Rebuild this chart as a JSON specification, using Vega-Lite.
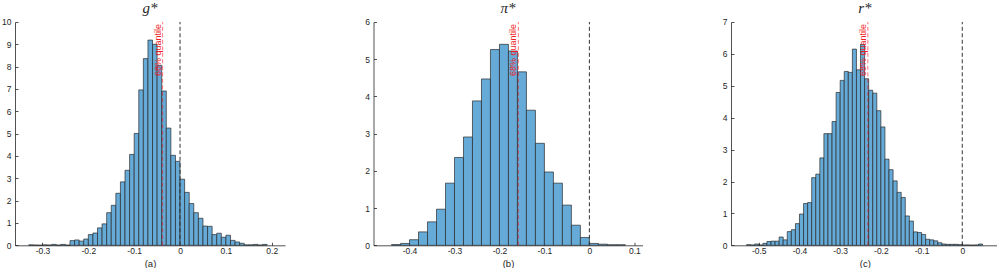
{
  "$schema": "https://vega.github.io/schema/vega-lite/v6.json",
  "background": "white",
  "padding": {"left": 1, "top": 1, "right": 0, "bottom": 0},
  "bounds": "flush",
  "spacing": 88.5,
  "datasets": {
    "a": [
      {"x0": -0.33, "x1": -0.32, "h": 0.02}, {"x0": -0.32, "x1": -0.31, "h": 0.01}, {"x0": -0.31, "x1": -0.30, "h": 0.005},
      {"x0": -0.30, "x1": -0.29, "h": 0.02}, {"x0": -0.29, "x1": -0.28, "h": 0.01}, {"x0": -0.28, "x1": -0.27, "h": 0.04},
      {"x0": -0.27, "x1": -0.26, "h": 0.01}, {"x0": -0.26, "x1": -0.25, "h": 0.04}, {"x0": -0.25, "x1": -0.24, "h": 0.01},
      {"x0": -0.24, "x1": -0.23, "h": 0.21}, {"x0": -0.23, "x1": -0.22, "h": 0.24}, {"x0": -0.22, "x1": -0.21, "h": 0.19},
      {"x0": -0.21, "x1": -0.20, "h": 0.28}, {"x0": -0.20, "x1": -0.19, "h": 0.48}, {"x0": -0.19, "x1": -0.18, "h": 0.55},
      {"x0": -0.18, "x1": -0.17, "h": 0.78}, {"x0": -0.17, "x1": -0.16, "h": 0.96}, {"x0": -0.16, "x1": -0.15, "h": 1.46},
      {"x0": -0.15, "x1": -0.14, "h": 1.79}, {"x0": -0.14, "x1": -0.13, "h": 2.33}, {"x0": -0.13, "x1": -0.12, "h": 2.84},
      {"x0": -0.12, "x1": -0.11, "h": 3.36}, {"x0": -0.11, "x1": -0.10, "h": 4.07}, {"x0": -0.10, "x1": -0.09, "h": 5.01},
      {"x0": -0.09, "x1": -0.08, "h": 6.96}, {"x0": -0.08, "x1": -0.07, "h": 8.36}, {"x0": -0.07, "x1": -0.06, "h": 9.19},
      {"x0": -0.06, "x1": -0.05, "h": 9.0}, {"x0": -0.05, "x1": -0.04, "h": 8.06}, {"x0": -0.04, "x1": -0.03, "h": 6.91},
      {"x0": -0.03, "x1": -0.02, "h": 5.25}, {"x0": -0.02, "x1": -0.01, "h": 4.03}, {"x0": -0.01, "x1": 0.0, "h": 3.76},
      {"x0": 0.0, "x1": 0.01, "h": 2.96}, {"x0": 0.01, "x1": 0.02, "h": 2.37}, {"x0": 0.02, "x1": 0.03, "h": 1.87},
      {"x0": 0.03, "x1": 0.04, "h": 1.46}, {"x0": 0.04, "x1": 0.05, "h": 1.21}, {"x0": 0.05, "x1": 0.06, "h": 0.86},
      {"x0": 0.06, "x1": 0.07, "h": 0.85}, {"x0": 0.07, "x1": 0.08, "h": 0.48}, {"x0": 0.08, "x1": 0.09, "h": 0.54},
      {"x0": 0.09, "x1": 0.10, "h": 0.36}, {"x0": 0.10, "x1": 0.11, "h": 0.45}, {"x0": 0.11, "x1": 0.12, "h": 0.22},
      {"x0": 0.12, "x1": 0.13, "h": 0.15}, {"x0": 0.13, "x1": 0.14, "h": 0.09}, {"x0": 0.14, "x1": 0.15, "h": 0.02},
      {"x0": 0.15, "x1": 0.16, "h": 0.02}, {"x0": 0.16, "x1": 0.17, "h": 0.04}, {"x0": 0.17, "x1": 0.18, "h": 0.01},
      {"x0": 0.18, "x1": 0.19, "h": 0.04}
    ],
    "b": [
      {"x0": -0.44, "x1": -0.42, "h": 0.02}, {"x0": -0.42, "x1": -0.40, "h": 0.05}, {"x0": -0.40, "x1": -0.38, "h": 0.15},
      {"x0": -0.38, "x1": -0.36, "h": 0.36}, {"x0": -0.36, "x1": -0.34, "h": 0.63}, {"x0": -0.34, "x1": -0.32, "h": 0.97},
      {"x0": -0.32, "x1": -0.30, "h": 1.67}, {"x0": -0.30, "x1": -0.28, "h": 2.36}, {"x0": -0.28, "x1": -0.26, "h": 2.91},
      {"x0": -0.26, "x1": -0.24, "h": 3.88}, {"x0": -0.24, "x1": -0.22, "h": 4.47}, {"x0": -0.22, "x1": -0.20, "h": 5.26},
      {"x0": -0.20, "x1": -0.18, "h": 5.40}, {"x0": -0.18, "x1": -0.16, "h": 5.22}, {"x0": -0.16, "x1": -0.14, "h": 4.66},
      {"x0": -0.14, "x1": -0.12, "h": 3.63}, {"x0": -0.12, "x1": -0.10, "h": 2.74}, {"x0": -0.10, "x1": -0.08, "h": 1.97},
      {"x0": -0.08, "x1": -0.06, "h": 1.67}, {"x0": -0.06, "x1": -0.04, "h": 1.08}, {"x0": -0.04, "x1": -0.02, "h": 0.54},
      {"x0": -0.02, "x1": 0.0, "h": 0.21}, {"x0": 0.0, "x1": 0.02, "h": 0.05}, {"x0": 0.02, "x1": 0.04, "h": 0.03},
      {"x0": 0.04, "x1": 0.06, "h": 0.015}, {"x0": 0.06, "x1": 0.08, "h": 0.015}
    ],
    "c": [
      {"x0": -0.53, "x1": -0.52, "h": 0.02}, {"x0": -0.52, "x1": -0.51, "h": 0.01}, {"x0": -0.51, "x1": -0.50, "h": 0.04},
      {"x0": -0.50, "x1": -0.49, "h": 0.01}, {"x0": -0.49, "x1": -0.48, "h": 0.06}, {"x0": -0.48, "x1": -0.47, "h": 0.12},
      {"x0": -0.47, "x1": -0.46, "h": 0.13}, {"x0": -0.46, "x1": -0.45, "h": 0.13}, {"x0": -0.45, "x1": -0.44, "h": 0.26},
      {"x0": -0.44, "x1": -0.43, "h": 0.17}, {"x0": -0.43, "x1": -0.42, "h": 0.43}, {"x0": -0.42, "x1": -0.41, "h": 0.49},
      {"x0": -0.41, "x1": -0.40, "h": 0.68}, {"x0": -0.40, "x1": -0.39, "h": 0.98}, {"x0": -0.39, "x1": -0.38, "h": 1.31},
      {"x0": -0.38, "x1": -0.37, "h": 1.34}, {"x0": -0.37, "x1": -0.36, "h": 2.12}, {"x0": -0.36, "x1": -0.35, "h": 2.23},
      {"x0": -0.35, "x1": -0.34, "h": 2.74}, {"x0": -0.34, "x1": -0.33, "h": 3.50}, {"x0": -0.33, "x1": -0.32, "h": 3.50},
      {"x0": -0.32, "x1": -0.31, "h": 3.88}, {"x0": -0.31, "x1": -0.30, "h": 4.79}, {"x0": -0.30, "x1": -0.29, "h": 5.17},
      {"x0": -0.29, "x1": -0.28, "h": 5.45}, {"x0": -0.28, "x1": -0.27, "h": 5.42}, {"x0": -0.27, "x1": -0.26, "h": 6.15},
      {"x0": -0.26, "x1": -0.25, "h": 5.50}, {"x0": -0.25, "x1": -0.24, "h": 6.30}, {"x0": -0.24, "x1": -0.23, "h": 5.22},
      {"x0": -0.23, "x1": -0.22, "h": 4.86}, {"x0": -0.22, "x1": -0.21, "h": 4.77}, {"x0": -0.21, "x1": -0.20, "h": 4.22},
      {"x0": -0.20, "x1": -0.19, "h": 3.71}, {"x0": -0.19, "x1": -0.18, "h": 2.70}, {"x0": -0.18, "x1": -0.17, "h": 2.37},
      {"x0": -0.17, "x1": -0.16, "h": 2.02}, {"x0": -0.16, "x1": -0.15, "h": 1.66}, {"x0": -0.15, "x1": -0.14, "h": 1.50},
      {"x0": -0.14, "x1": -0.13, "h": 0.92}, {"x0": -0.13, "x1": -0.12, "h": 0.76}, {"x0": -0.12, "x1": -0.11, "h": 0.42},
      {"x0": -0.11, "x1": -0.10, "h": 0.40}, {"x0": -0.10, "x1": -0.09, "h": 0.34}, {"x0": -0.09, "x1": -0.08, "h": 0.19},
      {"x0": -0.08, "x1": -0.07, "h": 0.17}, {"x0": -0.07, "x1": -0.06, "h": 0.14}, {"x0": -0.06, "x1": -0.05, "h": 0.08},
      {"x0": -0.05, "x1": -0.04, "h": 0.04}, {"x0": -0.04, "x1": -0.03, "h": 0.03}, {"x0": -0.03, "x1": -0.02, "h": 0.03},
      {"x0": -0.02, "x1": -0.01, "h": 0.03}, {"x0": -0.01, "x1": 0.0, "h": 0.02}, {"x0": 0.0, "x1": 0.01, "h": 0.01},
      {"x0": 0.01, "x1": 0.02, "h": 0.01}, {"x0": 0.02, "x1": 0.03, "h": 0.005}, {"x0": 0.03, "x1": 0.04, "h": 0.01},
      {"x0": 0.04, "x1": 0.05, "h": 0.04}
    ],
    "refA": [{"zero": 0, "q": -0.038, "base": 0, "top": 10, "label": "68% quantile"}],
    "refB": [{"zero": 0, "q": -0.158, "base": 0, "top": 6, "label": "68% quantile"}],
    "refC": [{"zero": 0, "q": -0.232, "base": 0, "top": 7, "label": "68% quantile"}]
  },
  "config": {
    "view": {"stroke": null},
    "axis": {
      "grid": false,
      "domainColor": "#262626", "domainWidth": 0.8,
      "tickColor": "#262626", "tickWidth": 0.8, "tickSize": -3,
      "labelColor": "#262626", "labelFont": "Liberation Sans", "labelFontSize": 8.5,
      "labelOverlap": false,
      "titleColor": "#262626", "titleFont": "Liberation Sans", "titleFontSize": 9.5, "titleFontWeight": "normal"
    },
    "axisX": {"labelFlush": false, "labelPadding": 4, "titlePadding": 4},
    "axisY": {"labelFlush": false, "labelPadding": 7},
    "title": {"font": "Liberation Serif", "fontStyle": "italic", "fontSize": 15, "fontWeight": "normal", "color": "#262626", "offset": 2, "anchor": "middle"}
  },
  "hconcat": [
    {
      "width": 270, "height": 223.3,
      "title": {"text": "g*"},
      "encoding": {
        "x": {"type": "quantitative", "scale": {"domain": [-0.349, 0.218], "nice": false, "zero": false},
          "axis": {"values": [-0.3, -0.2, -0.1, 0, 0.1, 0.2], "title": "(a)", "labelExpr": "replace(format(datum.value, '.1~f'), '\u2212', '-')"}},
        "y": {"type": "quantitative", "scale": {"domain": [0, 10], "nice": false},
          "axis": {"values": [0, 1, 2, 3, 4, 5, 6, 7, 8, 9, 10], "title": null}}
      },
      "layer": [
        {
          "data": {"name": "a"},
          "mark": {"type": "bar", "orient": "vertical", "fill": "#66AAD7", "stroke": "#262626", "strokeWidth": 0.8, "strokeOpacity": 0.85},
          "encoding": {"x": {"field": "x0"}, "x2": {"field": "x1"}, "y": {"field": "h"}}
        },
        {
          "data": {"name": "refA"},
          "mark": {"type": "rule", "color": "#333333", "strokeWidth": 1, "strokeDash": [4, 2.5]},
          "encoding": {"x": {"field": "zero"}, "y": {"field": "base"}, "y2": {"field": "top"}}
        },
        {
          "data": {"name": "refA"},
          "mark": {"type": "rule", "color": "#ff0000", "opacity": 0.55, "strokeWidth": 1, "strokeDash": [4, 2.5]},
          "encoding": {"x": {"field": "q"}, "y": {"field": "base"}, "y2": {"field": "top"}}
        },
        {
          "data": {"name": "refA"},
          "mark": {"type": "text", "angle": 270, "align": "right", "baseline": "bottom", "dx": -2, "dy": 0, "font": "Liberation Sans", "fontSize": 9, "color": "#ee1c25"},
          "encoding": {"x": {"field": "q"}, "y": {"field": "top"}, "text": {"field": "label", "type": "nominal"}}
        }
      ]
    },
    {
      "width": 269, "height": 223.3,
      "title": {"text": "π*"},
      "encoding": {
        "x": {"type": "quantitative", "scale": {"domain": [-0.469, 0.107], "nice": false, "zero": false},
          "axis": {"values": [-0.4, -0.3, -0.2, -0.1, 0, 0.1], "title": "(b)", "labelExpr": "replace(format(datum.value, '.1~f'), '\u2212', '-')"}},
        "y": {"type": "quantitative", "scale": {"domain": [0, 6], "nice": false},
          "axis": {"values": [0, 1, 2, 3, 4, 5, 6], "title": null}}
      },
      "layer": [
        {
          "data": {"name": "b"},
          "mark": {"type": "bar", "orient": "vertical", "fill": "#66AAD7", "stroke": "#262626", "strokeWidth": 0.8, "strokeOpacity": 0.85},
          "encoding": {"x": {"field": "x0"}, "x2": {"field": "x1"}, "y": {"field": "h"}}
        },
        {
          "data": {"name": "refB"},
          "mark": {"type": "rule", "color": "#333333", "strokeWidth": 1, "strokeDash": [4, 2.5]},
          "encoding": {"x": {"field": "zero"}, "y": {"field": "base"}, "y2": {"field": "top"}}
        },
        {
          "data": {"name": "refB"},
          "mark": {"type": "rule", "color": "#ff0000", "opacity": 0.55, "strokeWidth": 1, "strokeDash": [4, 2.5]},
          "encoding": {"x": {"field": "q"}, "y": {"field": "base"}, "y2": {"field": "top"}}
        },
        {
          "data": {"name": "refB"},
          "mark": {"type": "text", "angle": 270, "align": "right", "baseline": "bottom", "dx": -2, "dy": 0, "font": "Liberation Sans", "fontSize": 9, "color": "#ee1c25"},
          "encoding": {"x": {"field": "q"}, "y": {"field": "top"}, "text": {"field": "label", "type": "nominal"}}
        }
      ]
    },
    {
      "width": 267.6, "height": 223.3,
      "title": {"text": "r*"},
      "encoding": {
        "x": {"type": "quantitative", "scale": {"domain": [-0.556, 0.077], "nice": false, "zero": false},
          "axis": {"values": [-0.5, -0.4, -0.3, -0.2, -0.1, 0], "title": "(c)", "labelExpr": "replace(format(datum.value, '.1~f'), '\u2212', '-')"}},
        "y": {"type": "quantitative", "scale": {"domain": [0, 7], "nice": false},
          "axis": {"values": [0, 1, 2, 3, 4, 5, 6, 7], "title": null}}
      },
      "layer": [
        {
          "data": {"name": "c"},
          "mark": {"type": "bar", "orient": "vertical", "fill": "#66AAD7", "stroke": "#262626", "strokeWidth": 0.8, "strokeOpacity": 0.85},
          "encoding": {"x": {"field": "x0"}, "x2": {"field": "x1"}, "y": {"field": "h"}}
        },
        {
          "data": {"name": "refC"},
          "mark": {"type": "rule", "color": "#333333", "strokeWidth": 1, "strokeDash": [4, 2.5]},
          "encoding": {"x": {"field": "zero"}, "y": {"field": "base"}, "y2": {"field": "top"}}
        },
        {
          "data": {"name": "refC"},
          "mark": {"type": "rule", "color": "#ff0000", "opacity": 0.55, "strokeWidth": 1, "strokeDash": [4, 2.5]},
          "encoding": {"x": {"field": "q"}, "y": {"field": "base"}, "y2": {"field": "top"}}
        },
        {
          "data": {"name": "refC"},
          "mark": {"type": "text", "angle": 270, "align": "right", "baseline": "bottom", "dx": -2, "dy": 0, "font": "Liberation Sans", "fontSize": 9, "color": "#ee1c25"},
          "encoding": {"x": {"field": "q"}, "y": {"field": "top"}, "text": {"field": "label", "type": "nominal"}}
        }
      ]
    }
  ]
}
